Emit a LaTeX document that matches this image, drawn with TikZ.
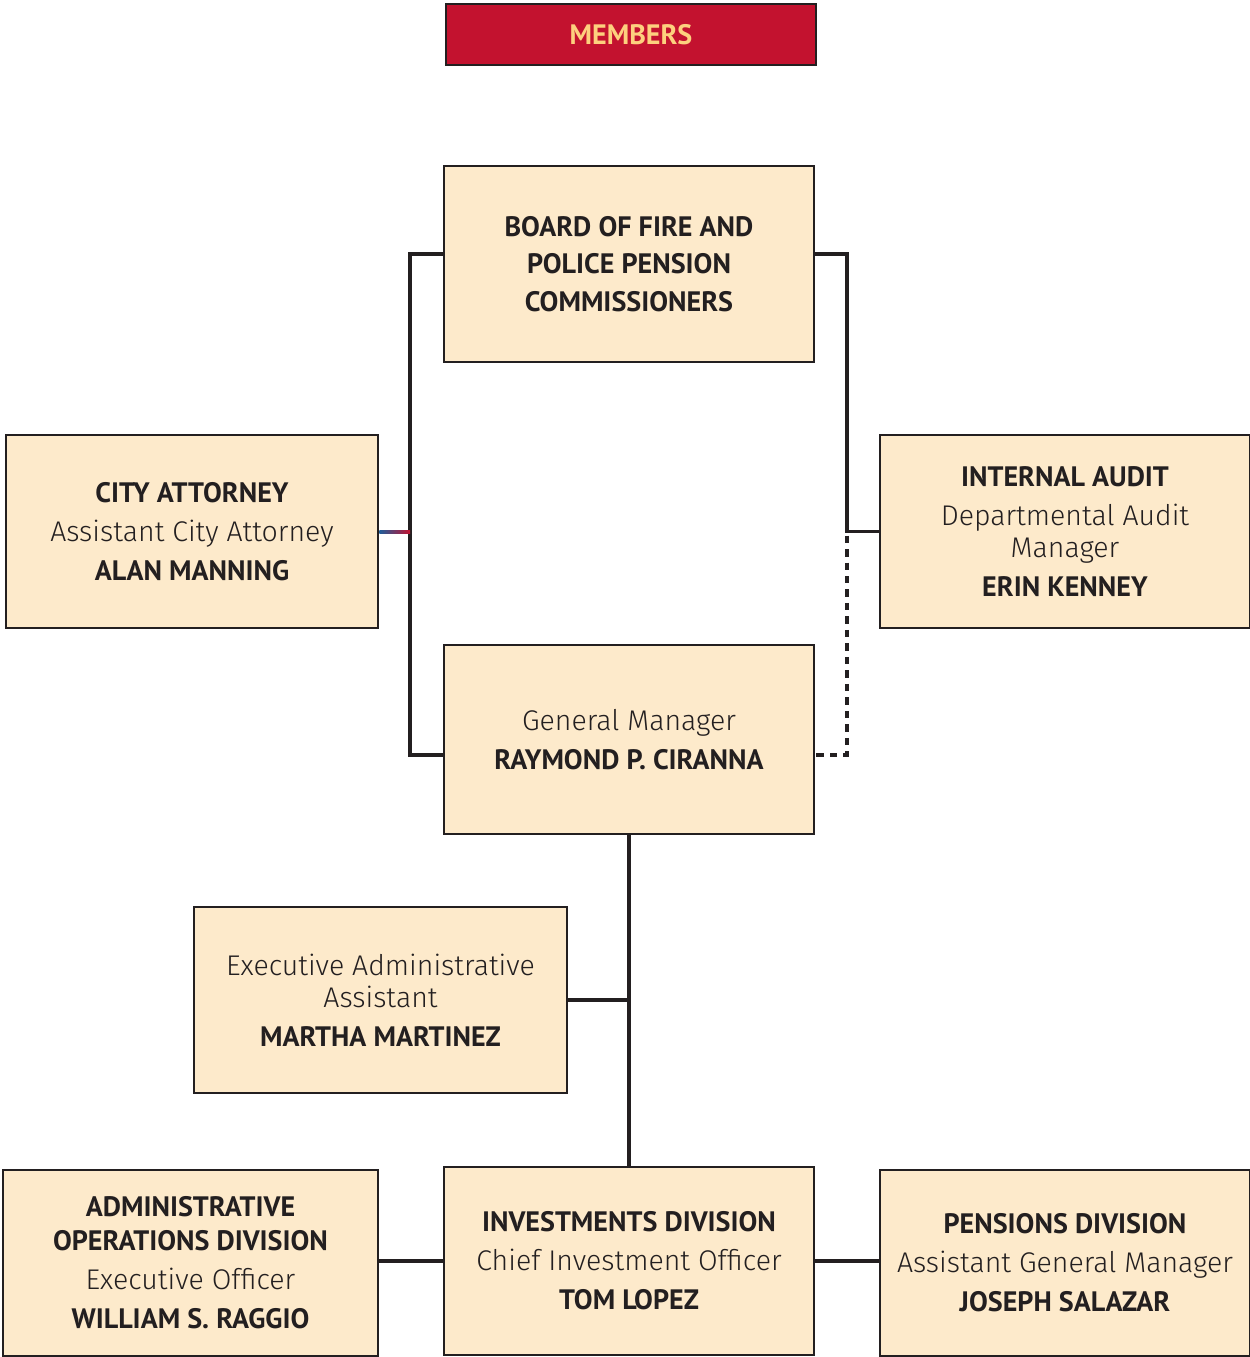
\documentclass[tikz,border=0pt]{standalone}
\usepackage{fontspec}
\setmainfont{Fira Sans Light}[BoldFont=Fira Sans SemiBold]
\newfontfamily\namefont{PT Sans}
\usetikzlibrary{calc}
\definecolor{inkgray}{HTML}{231F20}
\definecolor{boxfill}{HTML}{FDEACB}
\definecolor{memred}{HTML}{C3122F}
\definecolor{memtext}{HTML}{FDD07E}
\definecolor{attyblue}{HTML}{1F5D9A}
\newcommand{\bname}[1]{{\namefont\bfseries\fontsize{16}{18}\selectfont #1}}
\begin{document}
\begin{tikzpicture}[x=0.02cm,y=-0.02cm,
	box/.style={draw=inkgray,line width=1.6pt,fill=boxfill,align=center,text=inkgray,
		minimum width=7.4cm,inner sep=0pt,font=\fontsize{16.2}{18.2}\selectfont},
	link/.style={draw=inkgray,line width=1.9pt},
	dottedlink/.style={link,dash pattern=on 0.15cm off 0.12cm}]
	\useasboundingbox (0,0) rectangle (1250,1357);
	% top bar
	\node[box,fill=memred,minimum height=1.22cm,text=memtext] (members) at (631,34.5) {\bname{MEMBERS}};
	% board and staff
	\node[box,minimum height=3.92cm] (board) at (629,264) {\bname{BOARD OF FIRE AND}\\[3pt]\bname{POLICE PENSION}\\[3pt]\bname{COMMISSIONERS}};
	\node[box,minimum width=7.44cm,minimum height=3.86cm] (atty) at (192,531.5) {\bname{CITY ATTORNEY}\\[4pt]Assistant City Attorney\\[4pt]\bname{ALAN MANNING}};
	\node[box,minimum height=3.86cm] (audit) at (1065,531.5) {\bname{INTERNAL AUDIT}\\[4pt]Departmental Audit\\Manager\\[4pt]\bname{ERIN KENNEY}};
	\node[box,minimum height=3.78cm] (gm) at (629,739.5) {General Manager\\[4pt]\bname{RAYMOND P. CIRANNA}};
	\node[box,minimum width=7.46cm,minimum height=3.72cm] (exec) at (380.5,1000) {Executive Administrative\\Assistant\\[4pt]\bname{MARTHA MARTINEZ}};
	% divisions
	\node[box,minimum width=7.5cm,minimum height=3.72cm] (adminops) at (190.5,1263) {\bname{ADMINISTRATIVE}\\[1pt]\bname{OPERATIONS DIVISION}\\[4pt]Executive Officer\\[4pt]\bname{WILLIAM S. RAGGIO}};
	\node[box,minimum height=3.76cm] (invest) at (629,1261) {\bname{INVESTMENTS DIVISION}\\[4pt]Chief Investment Officer\\[4pt]\bname{TOM LOPEZ}};
	\node[box,minimum height=3.72cm] (pension) at (1065,1263) {\bname{PENSIONS DIVISION}\\[4pt]Assistant General Manager\\[4pt]\bname{JOSEPH SALAZAR}};
	% connectors
	\coordinate (lbar) at (410,531.5);
	\coordinate (rbar) at (847,531.5);
	\draw[link] ($(board.west)+(0,-10)$) -| (lbar) |- ($(gm.west)+(0,15.5)$);
	\shade[left color=attyblue,right color=memred] ($(atty.east)+(0,-1.5)$) rectangle ($(lbar)+(0,1.5)$);
	\draw[link] ($(board.east)+(0,-10)$) -| (rbar) -- (audit.west);
	\draw[dottedlink] ($(rbar)+(0,4)$) |- ($(gm.east)+(0,15.5)$);
	\draw[link] (gm.south) -- (invest.north);
	\draw[link] (exec.east) -- (gm.south |- exec.east);
	\draw[link] (invest.west) -- (adminops.east |- invest.west);
	\draw[link] (invest.east) -- (pension.west |- invest.east);
\end{tikzpicture}
\end{document}
